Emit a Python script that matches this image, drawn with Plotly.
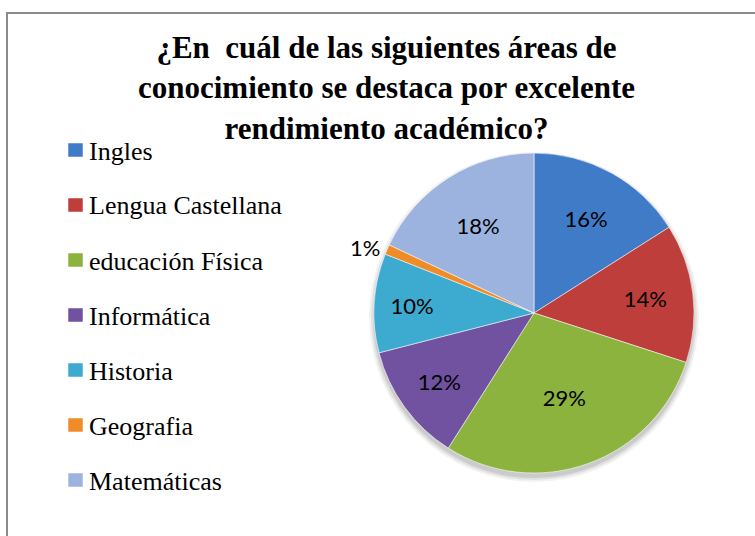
import plotly.graph_objects as go

W, H = 755, 536

labels = ["Ingles", "Lengua Castellana", "educación Física", "Informática",
          "Historia", "Geografia", "Matemáticas"]
values = [16, 14, 29, 12, 10, 1, 18]
colors = ["#3F7BC6", "#BE3E3C", "#8DB33F", "#7152A0", "#3DAAD0", "#F08C28", "#9CB3DF"]
title_text = "¿En  cuál de las siguientes áreas de<br>conocimiento se destaca por excelente<br>rendimiento académico?"

SERIF = "Liberation Serif, Times New Roman, Liberation Sans, Arial, sans-serif"


def px(x):
    return x / W


def py(y):
    return 1 - y / H


textpos = ["outside" if v < 3 else "inside" for v in values]

# pie geometry (pixels)
cx, cy, r = 534, 313, 160

fig = go.Figure()
fig.add_trace(go.Pie(
    labels=labels,
    values=values,
    sort=False,
    direction="clockwise",
    rotation=0,
    marker=dict(colors=colors, line=dict(color="rgba(255,255,255,0.55)", width=1)),
    texttemplate="%{percent:.0%}",
    textposition=textpos,
    insidetextorientation="horizontal",
    textfont=dict(family="Lato", size=22, color="black"),
    outsidetextfont=dict(family="Lato", size=22, color="black"),
    domain=dict(x=[px(cx - r), px(cx + r)], y=[py(cy + r), py(cy - r)]),
    showlegend=False,
    hoverinfo="label+percent",
))

shapes = []
annotations = []

# soft shadow under the pie
for k, a in [(6, 0.05), (4, 0.07), (2, 0.09)]:
    shapes.append(dict(type="circle", xref="paper", yref="paper", layer="below",
                       x0=px(cx - r - k + 1), x1=px(cx + r + k - 1),
                       y0=py(cy + r + k + 3), y1=py(cy - r - k + 5),
                       line=dict(width=0), fillcolor=f"rgba(0,0,0,{a})"))

# border
shapes.append(dict(type="rect", xref="paper", yref="paper",
                   x0=px(7), x1=1.02, y0=-0.02, y1=py(13),
                   line=dict(color="#8a8a8a", width=2), fillcolor="rgba(0,0,0,0)"))

# manual legend
row0, step = 150, 55
for i, (lab, col) in enumerate(zip(labels, colors)):
    yc = row0 + i * step
    shapes.append(dict(type="rect", xref="paper", yref="paper",
                       x0=px(68), x1=px(83), y0=py(yc + 7), y1=py(yc - 7),
                       line=dict(color="rgba(255,255,255,0.5)", width=1), fillcolor=col))
    annotations.append(dict(x=px(87), y=py(yc + 1), xref="paper", yref="paper",
                            text=lab, showarrow=False, xanchor="left", yanchor="middle",
                            font=dict(family=SERIF, size=26, color="black")))

# title
annotations.append(dict(x=px(386), y=py(88), xref="paper", yref="paper",
                        text="<b>" + title_text + "</b>", showarrow=False,
                        xanchor="center", yanchor="middle", align="center",
                        font=dict(family=SERIF, size=31, color="black")))

fig.update_layout(
    width=W, height=H,
    margin=dict(l=0, r=0, t=0, b=0),
    paper_bgcolor="white",
    plot_bgcolor="white",
    shapes=shapes,
    annotations=annotations,
)

fig.write_html("out.html", config={"displayModeBar": False})
with open("out.html", "r", encoding="utf-8") as f:
    html = f.read()
html = html.replace("<head>", "<head><style>html,body{margin:0;padding:0;}</style>", 1)
with open("out.html", "w", encoding="utf-8") as f:
    f.write(html)
